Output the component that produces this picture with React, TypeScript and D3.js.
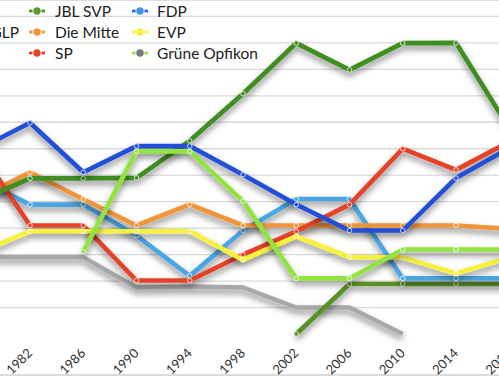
import React from 'react';
import * as d3 from 'd3';

const years = [1978, 1982, 1986, 1990, 1994, 1998, 2002, 2006, 2010, 2014, 2018];
const tickLabels = years.map(String);

const svpValues = [5.0, 5.88, 5.88, 5.9, 7.3, 9.08, 10.99, 9.98, 10.99, 11.0, 7.77];
const fdpValues = [6.95, 7.98, 6.11, 7.1, 7.1, 6.02, 4.89, 3.91, 3.91, 5.89, 7.03];
const spValues = [7.1, 4.1, 4.1, 2.02, 2.02, 3.0, 3.88, 4.89, 7.0, 6.2, 7.26];
const mitteValues = [5.1, 6.11, 5.09, 4.1, 4.89, 4.1, 4.1, 4.1, 4.1, 4.1, 3.97];
const glpValues = [5.9, 4.89, 4.89, 3.72, 2.2, 3.91, 5.1, 5.1, 2.1, 2.1, 2.1];
const evpValues = [3.05, 3.88, 3.88, 3.88, 3.88, 2.8, 3.69, 2.9, 2.9, 2.29, 2.89];
const grueneValues = [null, null, 3.11, 6.9, 6.9, 5.02, 2.1, 2.1, 3.19, 3.19, 3.19];
const jblValues = [null, null, null, null, null, null, 0, 1.89, 1.89, 1.89, 1.89];
const grayValues = [2.9, 2.9, 2.9, 1.76, 1.79, 1.76, 1.0, 1.0, 0, null, null];

const gridValues = [1, 2, 3, 4, 5, 6, 7, 8, 9, 10, 11, 12];

type Series = { key: string; values: (number | null)[]; color: string; markers: boolean };

const series: Series[] = [
  { key: 'gray', values: grayValues, color: '#a8a8a8', markers: false },
  { key: 'jbl', values: jblValues, color: '#5a9128', markers: true },
  { key: 'glp', values: glpValues, color: '#49a6e3', markers: true },
  { key: 'mitte', values: mitteValues, color: '#ef953b', markers: true },
  { key: 'sp', values: spValues, color: '#e5432a', markers: true },
  { key: 'evp', values: evpValues, color: '#f6f23b', markers: true },
  { key: 'svp', values: svpValues, color: '#3f8d24', markers: true },
  { key: 'fdp', values: fdpValues, color: '#2150d6', markers: true },
  { key: 'gruene', values: grueneValues, color: '#92e340', markers: true },
];

const legendItems = [
  { name: 'JBL SVP', dash: '#4a9a2b', dot: '#5c9c35', col: 0, row: 0 },
  { name: 'Die Mitte', dash: '#ef953b', dot: '#ef953b', col: 0, row: 1 },
  { name: 'SP', dash: '#e5432a', dot: '#e5432a', col: 0, row: 2 },
  { name: 'FDP', dash: '#2a62dc', dot: '#3e93ee', col: 1, row: 0 },
  { name: 'EVP', dash: '#f6f23b', dot: '#f6f23b', col: 1, row: 1 },
  { name: 'Grüne Opfikon', dash: '#92e340', dot: '#7a7a7a', col: 1, row: 2 },
];

export default function App() {
  const W = 499;
  const H = 376;
  const x = d3.scaleLinear().domain([1982, 2014]).range([30, 456]);
  const y = d3.scaleLinear().domain([0, 12]).range([334, 16.4]);

  const line = d3
    .line<{ yr: number; v: number | null }>()
    .defined((d) => d.v != null)
    .x((d) => x(d.yr))
    .y((d) => y(d.v as number));

  const colX = [37, 140];
  const textX = [55, 157];
  const rowY = [11, 32, 53];
  const font = 'Lato, "Open Sans", sans-serif';

  return (
    <svg
      width={W}
      height={H}
      style={{ position: 'absolute', left: 0, top: 0, background: '#fff' }}
      fontFamily={font}
    >
      <defs>
        <filter id="shadow" x="-10%" y="-15%" width="120%" height="150%">
          <feDropShadow dx="0" dy="4" stdDeviation="3" floodColor="#000" floodOpacity="0.48" />
        </filter>
      </defs>
      <rect x={0} y={0} width={W} height={H} fill="#fff" />
      <line x1={0} x2={W} y1={0.5} y2={0.5} stroke="#dedede" strokeWidth={1} />
      {gridValues.map((g) => (
        <line key={g} x1={0} x2={W} y1={y(g)} y2={y(g)} stroke="#d9d9d9" strokeWidth={1.3} />
      ))}
      <line x1={0} x2={W} y1={375} y2={375} stroke="#cfcfcf" strokeWidth={1.5} />

      {/* legend */}
      <text x={19} y={rowY[1]} textAnchor="end" dominantBaseline="central" fontSize={15.5} fill="#222">
        GLP
      </text>
      {legendItems.map((it) => {
        const cx = colX[it.col];
        const cy = rowY[it.row];
        return (
          <g key={it.name}>
            <line x1={cx - 8} x2={cx - 4.5} y1={cy} y2={cy} stroke={it.dash} strokeWidth={2.8} />
            <line x1={cx + 4.5} x2={cx + 8} y1={cy} y2={cy} stroke={it.dash} strokeWidth={2.8} />
            <circle cx={cx} cy={cy} r={3.7} fill={it.dot} />
            <text x={textX[it.col]} y={cy} dominantBaseline="central" fontSize={15.5} fill="#222">
              {it.name}
            </text>
          </g>
        );
      })}

      {/* lines */}
      {series.map((s) => {
        const pts = years.map((yr, i) => ({ yr, v: s.values[i] }));
        return (
          <g key={s.key}>
            <path
              d={line(pts) || ''}
              fill="none"
              stroke={s.color}
              strokeWidth={4.6}
              strokeLinejoin="miter"
              filter="url(#shadow)"
            />
            {s.markers &&
              pts
                .filter((p) => p.v != null)
                .map((p) => (
                  <circle
                    key={p.yr}
                    cx={x(p.yr)}
                    cy={y(p.v as number)}
                    r={2.3}
                    fill={s.color}
                    stroke="rgba(255,255,255,0.85)"
                    strokeWidth={0.9}
                  />
                ))}
          </g>
        );
      })}

      {/* x tick labels */}
      {years.map((yr, i) => (
        <text
          key={yr}
          transform={`translate(${x(yr) + 3},${354}) rotate(-45)`}
          textAnchor="end"
          fontSize={13}
          fill="#333"
        >
          {tickLabels[i]}
        </text>
      ))}
    </svg>
  );
}
